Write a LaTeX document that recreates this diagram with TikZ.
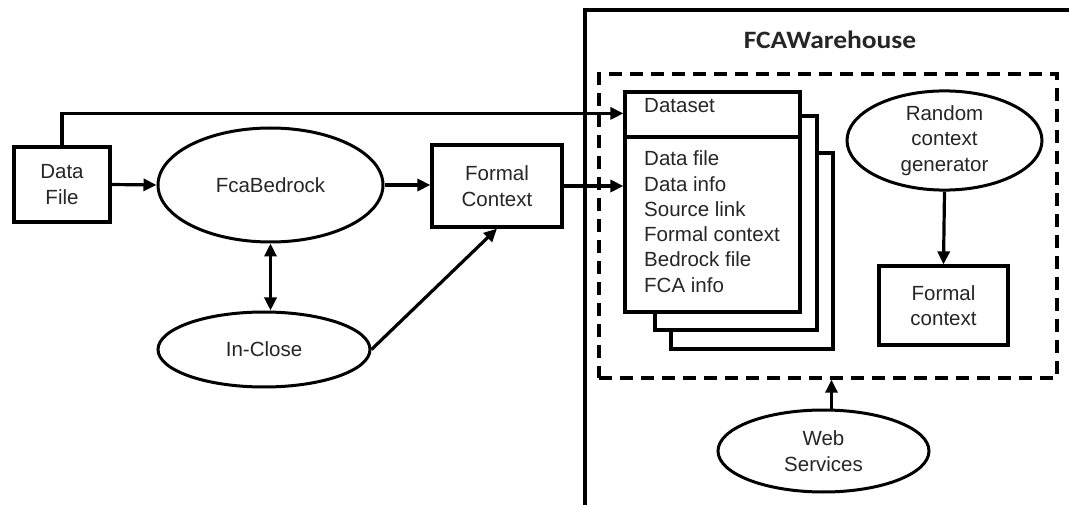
\documentclass[tikz,border=0pt]{standalone}
\usepackage{fontspec}
\setmainfont{Liberation Sans}
\newfontfamily\whfont[FakeStretch=1.1]{Carlito}
\usetikzlibrary{shapes.geometric,arrows.meta}
\begin{document}
\begin{tikzpicture}[x=1pt,y=-1pt,
  every node/.style={font=\fontsize{20.5}{25.5}\selectfont, text=black!85},
  box/.style={draw, line width=3.2pt, rectangle, inner sep=0pt, align=center, fill=white},
  oval/.style={draw, line width=3pt, ellipse, inner sep=0pt, align=center},
  arr/.style={line width=3.2pt, -{Triangle[length=13pt,width=12pt]}},
  darr/.style={line width=3.2pt, {Triangle[length=13pt,width=12pt]}-{Triangle[length=13pt,width=12pt]}},
  listtxt/.style={anchor=base west, inner sep=0pt}
]
\useasboundingbox (0,0) rectangle (1069,505);
\fill[white] (0,0) rectangle (1069,505);

% warehouse outer border (extends past the image)
\draw[line width=3.4pt] (585,505) -- (585,10) -- (1069,10);
\node[font=\whfont\bfseries\fontsize{25}{30}\selectfont, text=black!85] (wh) at (830,40) {FCAWarehouse};

% dashed inner box
\node[draw, line width=3.4pt, dash pattern=on 13pt off 8pt, rectangle, minimum width=458pt, minimum height=304pt, inner sep=0pt] (inner) at (828,226) {};

% dataset stack
\node[box, minimum width=162pt, minimum height=196pt] (ds3) at (752,251) {};
\node[box, minimum width=162pt, minimum height=214pt] (ds2) at (736,223) {};
\node[box, minimum width=175pt, minimum height=220pt] (ds) at (712.5,202) {};
\draw[line width=3.2pt] (ds.west |- 0,137) -- (ds.east |- 0,137);
\node[listtxt] (dstitle) at (644,113) {Dataset};
\node[listtxt] (l1) at (644,166) {Data file};
\node[listtxt] (l2) at (644,191.5) {Data info};
\node[listtxt] (l3) at (644,217) {Source link};
\node[listtxt] (l4) at (644,242) {Formal context};
\node[listtxt] (l5) at (644,267) {Bedrock file};
\node[listtxt] (l6) at (644,292.5) {FCA info};

% right part of warehouse
\node[oval, minimum width=195pt, minimum height=95pt] (rcg) at (944.5,140.5) {Random\\context\\generator};
\node[box, minimum width=129pt, minimum height=79pt] (sfc) at (943.5,305.5) {Formal\\context};
\node[oval, minimum width=211pt, minimum height=82pt] (ws) at (823.5,451) {Web\\Services};

% left part
\node[box, minimum width=96pt, minimum height=75pt] (df) at (62,184.5) {Data\\File};
\node[oval, minimum width=225pt, minimum height=114pt] (fb) at (270.5,185) {FcaBedrock};
\node[box, minimum width=130pt, minimum height=82pt] (fc) at (497,186) {Formal\\Context};
\node[oval, minimum width=212pt, minimum height=75pt] (ic) at (264,349.5) {In-Close};

% connectors
\draw[arr] (df.north) |- ([yshift=-23pt]ds.north west);
\draw[arr] (df.east) -- (fb.west);
\draw[arr] (fb.east) -- (fb.east -| fc.west);
\draw[arr] (fc.east) -- (fc.east -| ds.west);
\draw[darr] (fb.south) -- (fb.south |- ic.north);
\draw[arr] (ic.east) -- (fc.south);
\draw[arr] (rcg.south) -- (sfc.north);
\draw[arr] ([xshift=8pt]ws.north) -- ([xshift=8pt]ws.north |- inner.south);
\end{tikzpicture}
\end{document}
